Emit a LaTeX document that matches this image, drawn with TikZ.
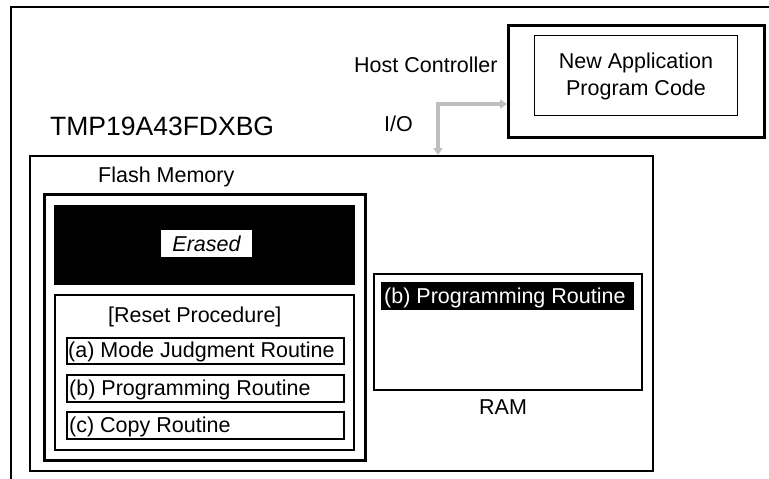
\documentclass[tikz,border=0pt]{standalone}
\usepackage{fontspec}
\setmainfont{Liberation Sans}
\usetikzlibrary{arrows.meta}
\definecolor{arrgray}{RGB}{190,190,190}
\begin{document}
\begin{tikzpicture}[x=1pt,y=-1pt,
  box/.style={draw, line width=1.5pt, inner sep=0pt, anchor=north west},
  thickbox/.style={box, line width=2.6pt},
  thinbox/.style={box, line width=1pt},
  lbl/.style={font=\fontsize{21.5}{25}\selectfont, inner sep=0pt, text height=15.4pt, text depth=0pt},
  biglbl/.style={font=\fontsize{26.5}{30}\selectfont, inner sep=0pt, text height=19pt, text depth=0pt},
  io arrow/.style={draw=arrgray, line width=4pt, line join=miter,
    {Triangle[width=9pt,length=7pt]}-{Triangle[width=9pt,length=7pt]}}
]
\useasboundingbox (0,0) rectangle (769,479);
% outer frame (runs off the picture at right and bottom)
\coordinate (oTL) at (11,7);
\coordinate (oBL) at (11,479);
\coordinate (oTR) at (769,7);
\draw[line width=1.6pt] (oBL) -- (oTL) -- (oTR);

% host controller
\node[thickbox, minimum width=256pt, minimum height=112pt] (host) at (507,24) {};
\node[thinbox, minimum width=203pt, minimum height=80pt] (app) at (534,35) {};
\node[lbl] (app1) at (636,61) {New Application};
\node[lbl] (app2) at (636,87.5) {Program Code};
\node[lbl, anchor=west] (hostlbl) at (354,65) {Host Controller};
\node[lbl, anchor=west] (io) at (384,124) {I/O};

% chip
\node[biglbl, anchor=west] (chiplbl) at (50,126) {TMP19A43FDXBG};
\node[box, minimum width=623pt, minimum height=315pt] (chip) at (29,155) {};

% flash memory
\node[lbl, anchor=west] (flashlbl) at (98,175) {Flash Memory};
\node[thickbox, minimum width=321pt, minimum height=266pt] (flash) at (43,193) {};
\node[box, draw=none, fill=black, minimum width=301pt, minimum height=80pt] (erasedblk) at (53,204) {};
\node[lbl, fill=white, minimum width=91pt, minimum height=27pt] (erased) at (206.5,243.5) {\itshape Erased};

% reset procedure
\node[box, minimum width=299pt, minimum height=155pt] (reset) at (54,294) {};
\node[lbl, anchor=west] (resetlbl) at (108,315) {[Reset Procedure]};
\node[box, minimum width=277pt, minimum height=26pt] (ra) at (66,337) {};
\node[box, minimum width=277pt, minimum height=27pt] (rb) at (66,374) {};
\node[box, minimum width=277pt, minimum height=27pt] (rc) at (66,411) {};
\node[lbl, anchor=west] (ralbl) at (68,350) {(a) Mode Judgment Routine};
\node[lbl, anchor=west] (rblbl) at (69,387.5) {(b) Programming Routine};
\node[lbl, anchor=west] (rclbl) at (69,424.5) {(c) Copy Routine};

% RAM
\node[box, minimum width=268pt, minimum height=116pt] (ram) at (373,273) {};
\node[box, draw=none, fill=black, minimum width=253pt, minimum height=28pt] (ramb) at (380,281) {};
\node[lbl, anchor=west, text=white] (ramblbl) at (384,295.5) {(b) Programming Routine};
\node[lbl, anchor=west] (ramlbl) at (479,406.5) {RAM};

% I/O connector
\coordinate (corner) at (438,104);
\draw[io arrow] (corner -| host.west) -- (corner) -- (corner |- chip.north);
\end{tikzpicture}
\end{document}
